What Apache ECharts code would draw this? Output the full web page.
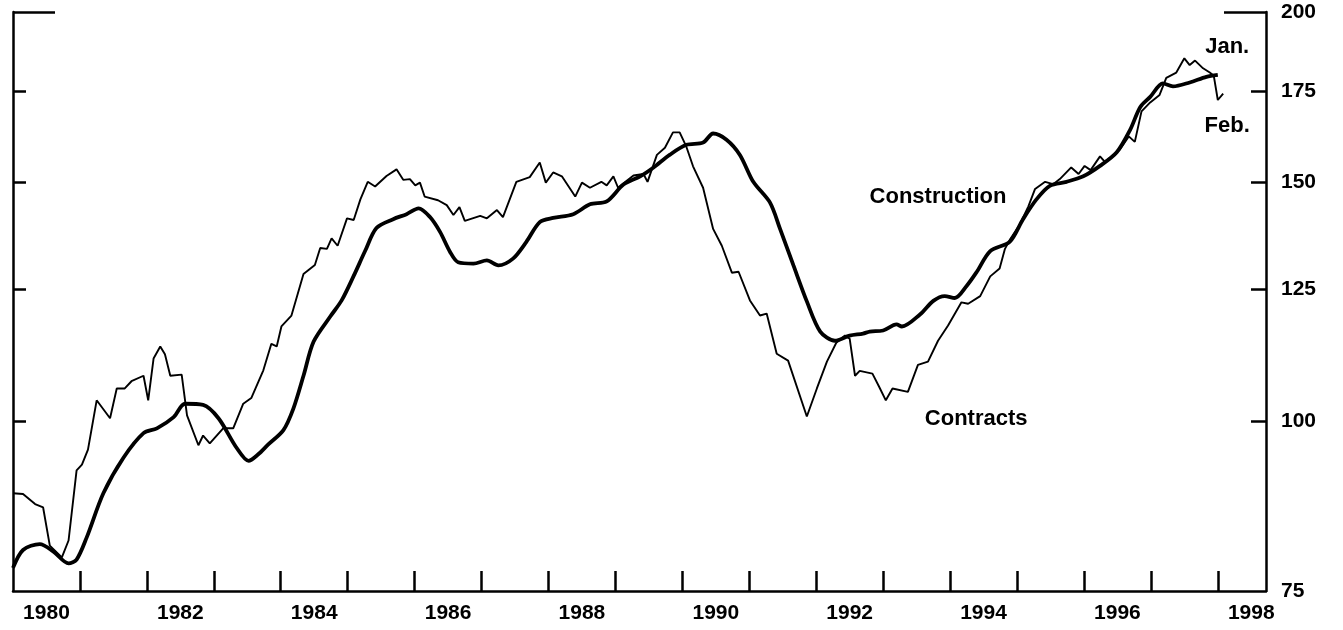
<!DOCTYPE html>
<html>
<head>
<meta charset="utf-8">
<script src="https://cdn.jsdelivr.net/npm/echarts@6/dist/echarts.min.js"></script>
<style>
html,body{margin:0;padding:0;background:#fff;}
#chart{width:1343px;height:630px;}
</style>
</head>
<body>
<div id="chart"></div>
<script>
// Contracts (thin line): [decimal year, index]
const contracts = [
[1980.00,88.5],[1980.15,88.4],[1980.33,86.9],[1980.45,86.4],[1980.55,81.0],[1980.73,79.4],[1980.83,81.7],[1980.95,92.0],
[1981.03,92.9],[1981.12,95.3],[1981.25,103.6],[1981.45,100.5],[1981.55,105.7],[1981.67,105.7],[1981.77,107.0],[1981.95,108.0],
[1982.02,103.6],[1982.10,111.2],[1982.20,113.5],[1982.27,112.0],[1982.35,108.0],[1982.52,108.2],[1982.60,101.0],[1982.77,96.0],
[1982.84,97.6],[1982.94,96.3],[1983.14,98.8],[1983.29,98.8],[1983.44,103.0],[1983.56,104.0],[1983.74,109.0],[1983.86,114.0],
[1983.94,113.5],[1984.01,117.4],[1984.16,119.6],[1984.34,128.3],[1984.51,130.3],[1984.59,134.1],[1984.69,133.9],[1984.76,136.3],
[1984.85,134.6],[1984.99,141.0],[1985.09,140.6],[1985.19,145.6],[1985.30,150.0],[1985.41,148.8],[1985.58,151.5],[1985.73,153.2],
[1985.83,150.5],[1985.93,150.7],[1986.01,149.1],[1986.08,149.8],[1986.15,146.3],[1986.35,145.4],[1986.48,144.2],[1986.58,141.8],
[1986.67,143.7],[1986.75,140.4],[1986.98,141.6],[1987.08,141.0],[1987.23,143.0],[1987.32,141.3],[1987.52,150.0],[1987.72,151.2],
[1987.87,155.0],[1987.96,149.8],[1988.07,152.4],[1988.20,151.4],[1988.40,146.3],[1988.50,149.8],[1988.62,148.5],[1988.79,150.0],
[1988.87,149.1],[1988.97,151.4],[1989.04,148.5],[1989.15,150.0],[1989.27,151.6],[1989.42,152.0],[1989.48,150.0],[1989.62,157.0],
[1989.74,158.9],[1989.86,163.1],[1989.96,163.1],[1990.06,159.2],[1990.16,154.0],[1990.31,148.5],[1990.46,138.5],[1990.59,134.6],
[1990.74,128.6],[1990.84,128.8],[1991.01,122.7],[1991.16,119.6],[1991.26,120.0],[1991.41,112.1],[1991.58,110.8],[1991.86,100.8],
[1992.01,105.7],[1992.16,110.6],[1992.30,114.2],[1992.43,115.6],[1992.50,115.0],[1992.58,108.0],[1992.65,108.9],[1992.84,108.4],
[1992.94,106.0],[1993.04,103.6],[1993.14,105.7],[1993.37,105.1],[1993.52,110.0],[1993.67,110.6],[1993.82,114.6],[1993.97,117.6],
[1994.17,122.3],[1994.27,122.0],[1994.45,123.6],[1994.60,127.8],[1994.74,129.5],[1994.82,133.9],[1994.89,135.9],[1995.04,139.5],
[1995.17,143.9],[1995.27,148.2],[1995.42,150.0],[1995.54,149.4],[1995.64,150.7],[1995.81,153.7],[1995.92,152.0],[1996.01,154.1],
[1996.10,153.0],[1996.24,156.6],[1996.31,155.2],[1996.47,157.2],[1996.54,158.5],[1996.67,162.0],[1996.76,160.5],[1996.86,169.0],
[1996.99,171.6],[1997.13,173.8],[1997.23,178.9],[1997.38,180.5],[1997.50,184.9],[1997.58,182.8],[1997.66,184.2],[1997.78,181.8],
[1997.88,180.5],[1997.94,179.5],[1998.00,172.3],[1998.08,174.2]
];
// Construction (thick line): [decimal year, index]
const construction = [
[1980.00,78.0],[1980.15,80.4],[1980.40,81.2],[1980.60,80.2],[1980.83,78.6],[1980.95,79.1],[1981.10,82.1],[1981.35,88.5],
[1981.65,94.0],[1981.95,98.0],[1982.15,98.8],[1982.40,100.7],[1982.57,103.0],[1982.84,102.8],[1983.07,100.5],[1983.34,95.6],
[1983.52,93.5],[1983.66,94.5],[1983.81,96.1],[1984.04,98.5],[1984.19,102.2],[1984.34,108.0],[1984.49,114.4],[1984.74,119.4],
[1984.91,122.7],[1985.09,127.9],[1985.26,133.4],[1985.43,138.7],[1985.68,140.8],[1985.88,142.0],[1986.06,143.4],[1986.23,141.3],
[1986.38,137.8],[1986.53,133.2],[1986.65,130.9],[1986.88,130.6],[1987.08,131.3],[1987.25,130.2],[1987.47,131.7],[1987.67,135.5],
[1987.87,140.1],[1988.07,141.1],[1988.37,142.0],[1988.62,144.4],[1988.87,145.1],[1989.12,149.3],[1989.37,151.4],[1989.57,153.7],
[1989.81,157.0],[1990.06,159.7],[1990.31,160.3],[1990.46,162.8],[1990.66,161.1],[1990.86,157.0],[1991.06,150.0],[1991.31,144.8],
[1991.46,138.5],[1991.66,130.2],[1991.86,122.5],[1992.06,116.4],[1992.28,114.6],[1992.50,115.6],[1992.70,116.0],[1992.80,116.4],
[1993.00,116.6],[1993.20,117.8],[1993.28,117.4],[1993.55,119.8],[1993.75,122.6],[1993.92,123.6],[1994.07,123.2],[1994.25,125.8],
[1994.40,128.8],[1994.60,133.4],[1994.89,135.5],[1995.09,140.8],[1995.29,145.6],[1995.49,149.0],[1995.74,150.0],[1995.99,151.4],
[1996.24,154.1],[1996.49,157.7],[1996.69,163.8],[1996.84,170.2],[1996.99,173.2],[1997.18,177.2],[1997.33,176.3],[1997.58,177.5],
[1997.83,179.2],[1998.00,179.8]
];
const yearTicks = [1981,1982,1983,1984,1985,1986,1987,1988,1989,1990,1991,1992,1993,1994,1995,1996,1997,1998];
const yearLabels = [1980,1982,1984,1986,1988,1990,1992,1994,1996,1998];
const valueLabels = [75,100,125,150,175,200];
const valueTicks = [100,125,150,175];
const topTick = [200];
// annotations: [text, year, value]
const notes = [
  ['Construction', 1993.82, 146.3],
  ['Contracts', 1994.39, 100.3],
  ['Jan.', 1998.14, 188.4],
  ['Feb.', 1998.14, 164.9]
];

const FONT = '"Liberation Sans", Arial, Helvetica, sans-serif';
const chart = echarts.init(document.getElementById('chart'), null, {renderer: 'canvas'});
const yBase = {
  type: 'log', logBase: 10, min: 75, max: 200,
  splitLine: {show: false}, minorTick: {show: false}
};
const textStyle = {color: '#000', fontSize: 21, fontWeight: 'bold', fontFamily: FONT};
chart.setOption({
  animation: false,
  backgroundColor: '#fff',
  grid: {left: 13, right: 77, top: 12, bottom: 39, containLabel: false, outerBoundsMode: 'none'},
  xAxis: {
    type: 'value', min: 1980, max: 1998.72,
    axisLine: {show: true, lineStyle: {color: '#000', width: 2.5}},
    axisTick: {show: true, inside: true, length: 20, lineStyle: {color: '#000', width: 2.5},
               customValues: yearTicks},
    axisLabel: Object.assign({show: true, margin: 12,
                customValues: yearLabels.map(y => y + 0.5),
                formatter: v => String(Math.floor(v))}, textStyle),
    splitLine: {show: false}
  },
  yAxis: [
    Object.assign({}, yBase, {
      position: 'right',
      axisLine: {show: true, lineStyle: {color: '#000', width: 2.5}},
      axisTick: {show: true, inside: true, length: 15, lineStyle: {color: '#000', width: 2.5},
                 customValues: valueTicks},
      axisLabel: Object.assign({show: true, margin: 15,
                  customValues: valueLabels, formatter: v => String(Math.round(v))}, textStyle)
    }),
    Object.assign({}, yBase, {
      position: 'left',
      axisLine: {show: true, onZero: false, lineStyle: {color: '#000', width: 2.5}},
      axisTick: {show: true, inside: true, length: 13, lineStyle: {color: '#000', width: 2.5},
                 customValues: valueTicks},
      axisLabel: {show: false}
    }),
    Object.assign({}, yBase, {
      position: 'right',
      axisLine: {show: false},
      axisTick: {show: true, inside: true, length: 42, lineStyle: {color: '#000', width: 2.5},
                 customValues: topTick},
      axisLabel: {show: false}
    }),
    Object.assign({}, yBase, {
      position: 'left',
      axisLine: {show: false},
      axisTick: {show: true, inside: true, length: 42, lineStyle: {color: '#000', width: 2.5},
                 customValues: topTick},
      axisLabel: {show: false}
    })
  ],
  series: [
    {
      name: 'Contracts', type: 'line', yAxisIndex: 0, data: contracts,
      showSymbol: false, symbol: 'none', smooth: false,
      lineStyle: {color: '#000', width: 1.9},
      markPoint: {
        symbol: 'circle', symbolSize: 0, silent: true,
        label: Object.assign({show: true, position: 'inside', formatter: p => p.name}, textStyle, {fontSize: 22}),
        data: notes.map(n => ({name: n[0], coord: [n[1], n[2]]}))
      }
    },
    {
      name: 'Construction', type: 'line', yAxisIndex: 0, data: construction,
      showSymbol: false, symbol: 'none', smooth: 0.3,
      lineStyle: {color: '#000', width: 3.8}
    }
  ]
});
</script>
</body>
</html>
